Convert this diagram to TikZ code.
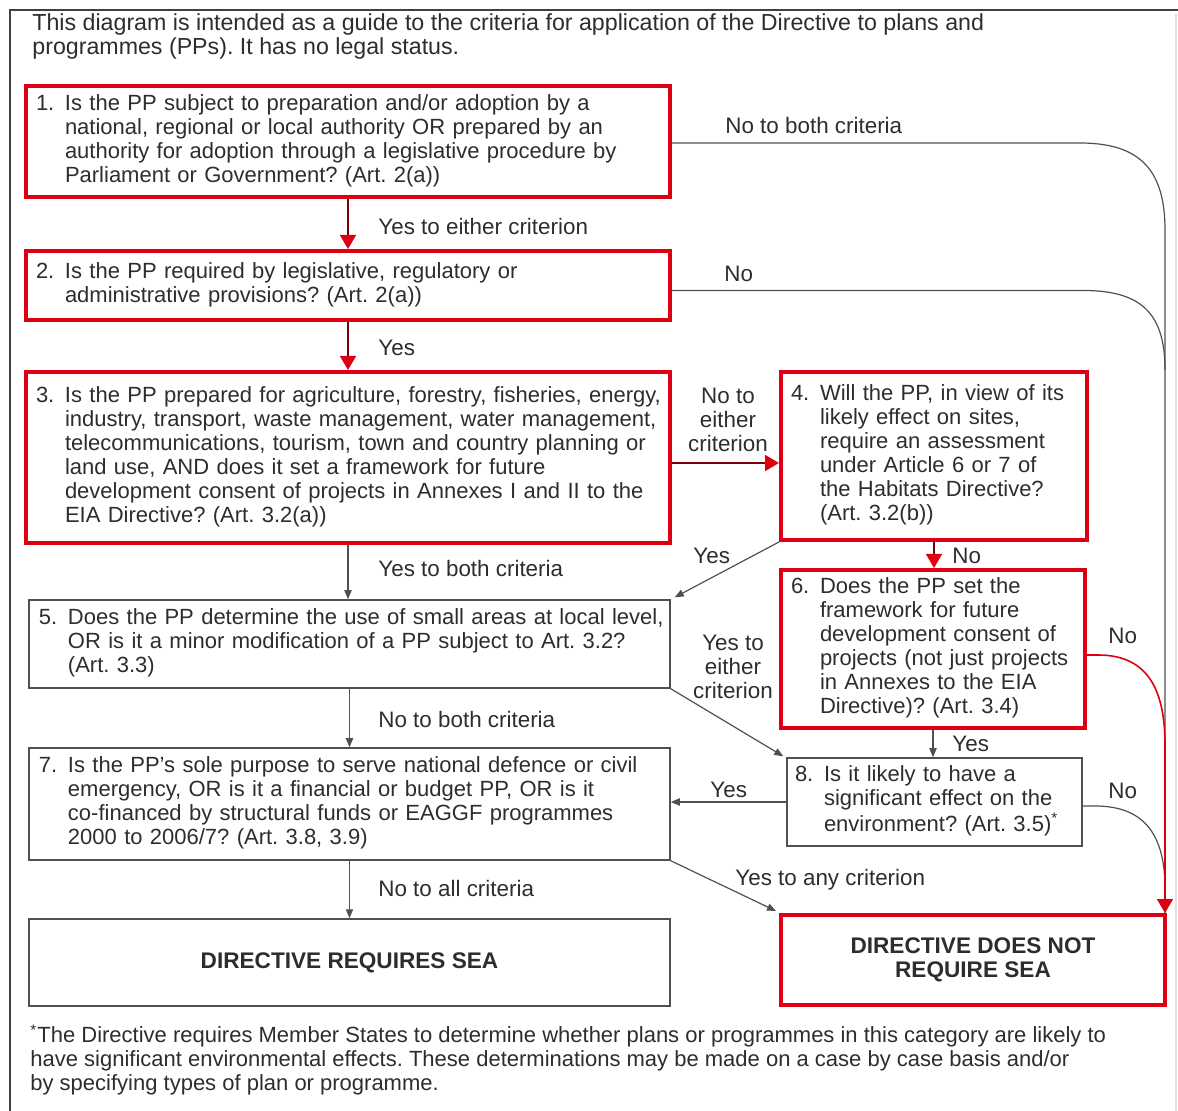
\documentclass[tikz,border=0pt]{standalone}
\usepackage{fontspec}
\setmainfont{Liberation Sans}
\usetikzlibrary{arrows.meta,calc}
\definecolor{rd}{RGB}{222,0,18}
\definecolor{txt}{RGB}{45,45,45}
\definecolor{ln}{RGB}{80,80,80}
\newcommand{\qtab}[2]{\begin{tabular}{@{}p{14.5pt}@{}l@{}}#1 & #2\end{tabular}}
\frenchspacing
\begin{document}
\begin{tikzpicture}[x=0.5pt,y=-0.5pt,
  font=\fontsize{11}{12}\selectfont\frenchspacing, text=txt,
  qbox/.style={draw=ln, line width=0.75pt, rectangle, inner xsep=5pt, inner ysep=0pt, align=left},
  redbox/.style={qbox, draw=rd, line width=2pt},
  gline/.style={draw=ln, line width=0.6pt},
  garrow/.style={gline, -{Triangle[length=4.5pt,width=3.6pt]}},
  rarrow/.style={draw=rd!55!black, line width=0.8pt, -{Triangle[length=7pt,width=8pt,color=rd]}},
  lbl/.style={anchor=west, inner sep=0pt, text=txt, font=\fontsize{11.2}{12}\selectfont},
  clbl/.style={anchor=center, inner sep=0pt, text=txt, align=center, font=\fontsize{11.2}{12}\selectfont}]
\useasboundingbox (0,0) rectangle (1178,1111);
% frame
\draw[line width=1pt, draw=black!75] (10,1111) -- (10,10) -- (1178,10);
\draw[line width=0.6pt, draw=black!12] (1176,14) -- (1176,1111);
% title
\node[anchor=west, inner sep=0pt, align=left, font=\fontsize{11.6}{12}\selectfont] (title) at (32,37)
  {This diagram is intended as a guide to the criteria for application of the Directive to plans and\\
   programmes (PPs). It has no legal status.};
% boxes
\node[redbox, minimum height=55.5pt, text width=312pt] (b1) at (348,141.5)
  {\qtab{1.}{Is the PP subject to preparation and/or adoption by a\\ & national, regional or local authority OR prepared by an\\ & authority for adoption through a legislative procedure by\\ & Parliament or Government? (Art. 2(a))}};
\node[redbox, minimum height=34.5pt, text width=312pt] (b2) at (348,285.5)
  {\qtab{2.}{Is the PP required by legislative, regulatory or\\ & administrative provisions? (Art. 2(a))}};
\node[redbox, minimum height=85.5pt, text width=312pt] (b3) at (348,457.5)
  {\qtab{3.}{Is the PP prepared for agriculture, forestry, fisheries, energy,\\ & industry, transport, waste management, water management,\\ & telecommunications, tourism, town and country planning or\\ & land use, AND does it set a framework for future\\ & development consent of projects in Annexes I and II to the\\ & EIA Directive? (Art. 3.2(a))}};
\node[redbox, minimum height=84pt, text width=143pt] (b4) at (934,456)
  {\qtab{4.}{Will the PP, in view of its\\ & likely effect on sites,\\ & require an assessment\\ & under Article 6 or 7 of\\ & the Habitats Directive?\\ & (Art. 3.2(b))}};
\node[redbox, minimum height=79pt, text width=142pt] (b6) at (933,649)
  {\qtab{6.}{Does the PP set the\\ & framework for future\\ & development consent of\\ & projects (not just projects\\ & in Annexes to the EIA\\ & Directive)? (Art. 3.4)}};
\node[qbox, minimum height=44pt, text width=310.5pt] (b5) at (349.5,644)
  {\qtab{5.}{Does the PP determine the use of small areas at local level,\\ & OR is it a minor modification of a PP subject to Art. 3.2?\\ & (Art. 3.3)}};
\node[qbox, minimum height=56pt, text width=310.5pt] (b7) at (349.5,804)
  {\qtab{7.}{Is the PP's sole purpose to serve national defence or civil\\ & emergency, OR is it a financial or budget PP, OR is it\\ & co-financed by structural funds or EAGGF programmes\\ & 2000 to 2006/7? (Art. 3.8, 3.9)}};
\node[qbox, minimum height=44pt, text width=139.5pt, inner xsep=4pt] (b8) at (934.5,802)
  {\qtab{8.}{Is it likely to have a\\ & significant effect on the\\ & environment? (Art. 3.5)\textsuperscript{*}}};
\node[qbox, align=center, minimum width=320.5pt, minimum height=43.5pt, font=\fontsize{11.3}{13}\selectfont] (bsea) at (349.5,962.5)
  {\textbf{DIRECTIVE REQUIRES SEA}};
\node[redbox, align=center, minimum width=192pt, minimum height=45pt, font=\fontsize{11.3}{12}\selectfont] (bnot) at (973,960)
  {\textbf{DIRECTIVE DOES NOT}\\\textbf{REQUIRE SEA}};
% footnote
\node[anchor=west, inner sep=0pt, align=left] (foot) at (30,1060)
  {\textsuperscript{*}The Directive requires Member States to determine whether plans or programmes in this category are likely to\\
   have significant environmental effects. These determinations may be made on a case by case basis and/or\\
   by specifying types of plan or programme.};
% helper coordinates
\coordinate (nin) at ([xshift=-1pt]bnot.north east);
\coordinate (a34) at ([yshift=-2.75pt]b3.east);
% red connectors
\draw[rarrow] (b1.south) -- (b2.north);
\draw[rarrow] (b2.south) -- (b3.north);
\draw[rarrow] (a34) -- (a34 -| b4.west);
\draw[rarrow] (b4.south) -- (b4.south |- b6.north);
% grey connectors
\draw[garrow] (b3.south) -- (b3.south |- b5.north);
\draw[garrow] (b5.south) -- (b5.south |- b7.north);
\draw[garrow] (b7.south) -- (b7.south |- bsea.north);
\draw[garrow] (b6.south) -- (b6.south |- b8.north);
\draw[garrow] (b4.south west) -- ([xshift=2pt,yshift=1pt]b5.north east);
\draw[garrow] (b5.south east) -- ([xshift=-1.5pt,yshift=0.5pt]b8.north west);
\draw[garrow] (b7.south east) -- ([xshift=-1.5pt,yshift=1pt]bnot.north west);
\draw[garrow] (b8.west) -- (b8.west -| b7.east);
% right-hand routes
\draw[gline] ([yshift=-0.75pt]b1.east) -- (1080,143) .. controls (1140,143) and (1165,170) .. (1165,230) -- (nin);
\draw[gline] ([yshift=-2.5pt]b2.east) -- (1083,290.5) .. controls (1140,290.5) and (1165,312) .. (1165,370);
\draw[gline] ([yshift=-2pt]b8.east) -- (1095,806) .. controls (1142,806) and (1164,832) .. (1165,885);
\draw[draw=rd, line width=0.8pt, -{Triangle[length=7pt,width=8pt,color=rd]}]
  ([yshift=-3pt]b6.east) -- (1098,655) .. controls (1148,655) and (1165,690) .. (1165,745) -- (nin);
% labels
\node[lbl] (l1) at (725,126) {No to both criteria};
\node[lbl] (l2) at (378,227) {Yes to either criterion};
\node[lbl] (l3) at (724,274) {No};
\node[lbl] (l4) at (378,348) {Yes};
\node[clbl] (l5) at (728,420) {No to\\either\\criterion};
\node[lbl] (l6) at (693,556) {Yes};
\node[lbl] (l7) at (952,556) {No};
\node[lbl] (l8) at (378,568) {Yes to both criteria};
\node[lbl] (l9) at (1108,636) {No};
\node[clbl] (l10) at (733,667) {Yes to\\either\\criterion};
\node[lbl] (l11) at (378,719) {No to both criteria};
\node[lbl] (l12) at (952,744) {Yes};
\node[lbl] (l13) at (710,790) {Yes};
\node[lbl] (l14) at (1108,791) {No};
\node[lbl] (l15) at (735,880) {Yes to any criterion};
\node[lbl] (l16) at (378,888) {No to all criteria};
\end{tikzpicture}
\end{document}
